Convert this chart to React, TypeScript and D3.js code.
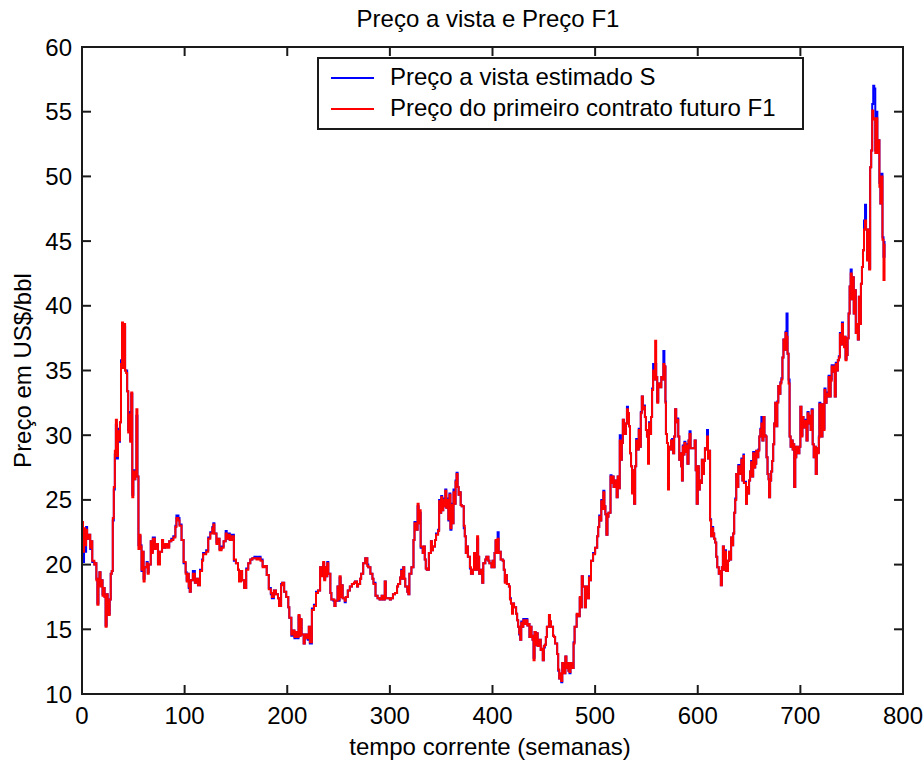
import React from "react";
import * as d3 from "d3";

// semanas (eixo x)
const weeks = [
  0, 1, 2, 3, 4, 5, 7, 8, 9, 10,
  12, 13, 14, 15, 16, 17, 18, 19, 20, 21,
  22, 23, 24, 25, 26, 27, 28, 29, 30, 31,
  32, 33, 34, 35, 36, 37, 38, 39, 40, 41,
  42, 43, 44, 45, 46, 47, 48, 49, 50, 51,
  52, 53, 54, 55, 56, 57, 58, 59, 60, 61,
  63, 64, 65, 67, 68, 69, 71, 72, 74, 76,
  78, 79, 81, 83, 85, 87, 89, 91, 92, 94,
  95, 97, 99, 101, 102, 103, 104, 105, 106, 108,
  110, 112, 113, 115, 117, 118, 121, 123, 125, 127,
  128, 129, 131, 132, 134, 136, 138, 140, 141, 143,
  144, 146, 148, 150, 152, 153, 155, 156, 158, 160,
  162, 164, 166, 168, 170, 172, 174, 176, 178, 180,
  182, 184, 185, 187, 189, 191, 192, 194, 195, 197,
  199, 201, 202, 204, 205, 207, 208, 210, 211, 212,
  213, 214, 216, 217, 218, 220, 221, 222, 224, 226,
  228, 230, 232, 233, 235, 236, 237, 238, 239, 240,
  242, 243, 245, 246, 247, 249, 250, 251, 252, 253,
  254, 256, 257, 259, 261, 263, 265, 266, 268, 269,
  271, 272, 274, 276, 278, 279, 281, 283, 284, 286,
  288, 290, 292, 294, 295, 296, 298, 300, 301, 303,
  305, 307, 308, 310, 311, 312, 313, 314, 315, 317,
  318, 319, 321, 323, 324, 325, 327, 328, 329, 330,
  332, 333, 334, 335, 336, 338, 340, 341, 342, 344,
  345, 347, 348, 349, 350, 351, 352, 353, 354, 355,
  356, 357, 358, 359, 360, 361, 362, 363, 364, 365,
  366, 367, 368, 369, 370, 372, 373, 374, 375, 376,
  378, 379, 381, 382, 383, 385, 386, 387, 389, 390,
  391, 393, 394, 396, 397, 399, 400, 401, 402, 403,
  404, 405, 406, 407, 408, 410, 411, 412, 413, 414,
  416, 417, 418, 419, 420, 421, 423, 424, 425, 426,
  427, 428, 429, 430, 432, 433, 434, 435, 436, 437,
  438, 439, 440, 441, 442, 443, 444, 446, 447, 448,
  449, 450, 451, 452, 453, 455, 456, 457, 459, 460,
  461, 462, 463, 464, 465, 466, 467, 468, 469, 471,
  472, 473, 474, 475, 476, 477, 479, 480, 482, 483,
  485, 486, 487, 488, 489, 490, 491, 492, 494, 495,
  496, 498, 500, 502, 503, 504, 505, 506, 507, 508,
  509, 510, 511, 512, 513, 515, 516, 517, 518, 520,
  521, 522, 523, 524, 525, 526, 527, 528, 530, 531,
  532, 533, 534, 535, 536, 537, 538, 539, 540, 541,
  542.5, 543.5, 544.5, 545.5, 546.5, 547.5, 548.5, 549.5, 550.5, 551.5,
  552.5, 553.5, 554.5, 555.5, 556.5, 557.5, 558.5, 559.5, 560.5, 561.5,
  563.5, 564.5, 565.5, 566.5, 567.5, 568.5, 569, 570, 571, 572,
  573, 574, 575, 576, 577, 578, 579, 580, 581, 582,
  583, 583.8, 584.6, 585.4, 586.2, 587, 588, 589, 590, 591,
  592, 593, 597, 598, 599, 600, 601, 602, 603, 604,
  605, 606, 607, 608, 609, 610, 611, 612, 613, 614,
  615, 616, 617, 618, 619, 620, 620.5, 621.5, 622.5, 623.5,
  624.5, 625.5, 626.5, 627.5, 628.5, 629.5, 630.5, 631.5, 632.5, 633.5,
  634.5, 635.5, 636.5, 637.5, 638.5, 639.5, 640.5, 641.5, 642.5, 643.5,
  644.5, 645, 646, 647, 648, 649, 650, 651, 652, 653,
  654, 655, 656, 657, 658, 659, 660, 661, 662, 663,
  664, 665, 666, 667, 668, 669, 669.5, 670.5, 671.5, 672.5,
  673.5, 674.5, 675.5, 676.5, 677.5, 678.5, 679.5, 680.5, 681.5, 682.5,
  683.5, 684.5, 685.5, 686.5, 687.5, 688.5, 689.5, 690.5, 691.5, 692.5,
  693.5, 694, 695, 696, 697, 698, 699, 700, 701, 702,
  703, 704, 705, 706, 707, 708, 709, 710, 711, 712,
  713, 714, 715, 716, 717, 718, 718.5, 719.5, 720.5, 721.5,
  722.5, 723.5, 724.5, 725.5, 726.5, 727.5, 728.5, 729.5, 730.5, 731.5,
  732.5, 733.5, 734.5, 735.5, 736.5, 737.5, 738.5, 739.5, 740.5, 741.5,
  742.5, 743, 744, 745, 746, 747, 748, 749, 750, 751,
  752, 753, 754, 755, 756, 757, 758, 759, 760, 761,
  762, 763, 764, 765, 766, 767, 768, 769, 770, 771,
  772, 773, 774, 775, 776, 777, 778, 779, 780, 781,
  782,
];

// Preço do primeiro contrato futuro F1
const precoF1 = [
  23.3, 21.0, 22.8, 21.5, 22.7, 22.0, 22.3, 21.3, 21.8, 20.3,
  20.0, 20.1, 18.8, 16.9, 18.9, 19.4, 18.3, 18.8, 17.6, 18.2,
  17.5, 15.2, 17.7, 17.0, 16.1, 17.3, 19.3, 19.5, 23.6, 26.0,
  28.8, 31.2, 28.4, 30.3, 29.6, 31.0, 35.5, 38.7, 35.2, 38.6,
  35.0, 34.8, 33.4, 30.2, 31.6, 29.5, 33.3, 25.2, 27.2, 26.6,
  27.2, 32.0, 26.8, 21.2, 22.3, 21.4, 19.6, 21.0, 18.7, 19.8,
  20.1, 19.3, 20.0, 21.8, 20.9, 22.0, 21.2, 21.6, 20.0, 21.0,
  21.9, 21.3, 21.6, 21.3, 21.8, 21.9, 22.1, 22.9, 23.6, 23.4,
  23.0, 21.9, 20.2, 19.3, 18.7, 19.3, 18.3, 17.9, 18.8, 19.3,
  18.6, 18.9, 18.4, 19.5, 20.3, 20.8, 21.0, 22.0, 22.4, 22.8,
  23.1, 22.4, 21.6, 22.0, 21.1, 21.3, 21.8, 22.4, 22.0, 22.3,
  21.9, 22.2, 20.4, 20.1, 19.6, 18.7, 19.5, 18.8, 18.2, 19.6,
  20.1, 20.4, 20.5, 20.5, 20.4, 20.5, 20.3, 19.8, 19.9, 19.2,
  18.1, 17.8, 17.5, 18.0, 17.7, 17.4, 16.8, 18.4, 18.6, 17.9,
  17.5, 16.7, 15.9, 14.6, 14.9, 14.4, 14.8, 14.4, 16.1, 14.5,
  15.8, 14.6, 13.9, 14.3, 14.6, 14.3, 15.2, 14.0, 16.5, 16.8,
  17.8, 18.0, 19.8, 19.1, 20.2, 18.8, 19.8, 19.1, 20.1, 19.3,
  17.8, 17.3, 17.3, 16.8, 17.2, 18.3, 17.3, 19.1, 17.5, 18.4,
  17.4, 17.2, 17.5, 18.0, 18.3, 18.5, 18.6, 18.7, 18.3, 18.5,
  18.9, 19.3, 20.1, 20.5, 19.9, 19.8, 19.3, 18.9, 18.5, 17.6,
  17.4, 17.3, 17.6, 17.3, 18.7, 17.4, 17.4, 17.3, 17.4, 17.7,
  17.8, 18.3, 18.5, 19.0, 19.5, 18.9, 19.8, 18.9, 18.3, 17.9,
  17.7, 19.3, 19.8, 21.9, 23.2, 22.7, 24.7, 23.2, 24.2, 21.4,
  20.9, 21.4, 20.4, 19.7, 19.6, 20.9, 21.8, 21.1, 21.4, 21.9,
  22.3, 22.6, 24.9, 24.0, 25.2, 24.2, 25.0, 24.5, 25.7, 24.4,
  25.0, 23.5, 25.4, 22.8, 24.6, 23.2, 25.6, 24.7, 26.4, 27.0,
  26.0, 25.4, 25.6, 24.6, 24.5, 23.0, 22.2, 20.9, 21.4, 20.6,
  19.8, 19.3, 19.6, 20.9, 19.6, 22.2, 20.6, 19.3, 19.6, 18.6,
  20.1, 20.4, 20.6, 20.3, 20.1, 19.8, 20.3, 19.8, 20.9, 21.9,
  20.9, 22.0, 20.9, 21.0, 20.4, 20.3, 19.6, 18.6, 19.2, 18.5,
  18.3, 17.3, 17.0, 16.2, 17.0, 16.7, 16.2, 15.7, 15.2, 14.7,
  14.2, 15.5, 15.2, 15.7, 15.4, 15.7, 15.3, 15.4, 14.4, 15.2,
  14.5, 14.2, 12.6, 14.8, 13.8, 14.7, 13.7, 14.2, 13.4, 13.5,
  12.6, 13.7, 13.8, 14.4, 15.2, 16.1, 15.6, 15.2, 14.5, 14.4,
  13.9, 13.9, 13.1, 11.9, 11.2, 11.6, 11.0, 12.4, 11.6, 12.9,
  12.0, 12.4, 11.8, 11.7, 12.4, 12.0, 13.9, 15.2, 16.2, 16.0,
  17.5, 16.7, 19.1, 18.3, 18.3, 16.7, 18.3, 17.4, 19.0, 18.8,
  20.3, 20.8, 21.3, 22.2, 22.9, 23.7, 23.4, 24.9, 24.3, 25.6,
  24.5, 23.9, 22.3, 23.7, 24.0, 26.8, 26.3, 26.8, 26.0, 26.5,
  25.2, 26.8, 25.9, 29.6, 28.1, 29.4, 31.2, 30.1, 30.9, 32.0,
  31.7, 30.7, 28.6, 27.6, 25.5, 27.3, 24.7, 27.6, 29.6, 28.9,
  30.4, 29.1, 31.7, 33.0, 32.0, 32.2, 31.4, 30.4, 29.9, 27.8,
  30.9, 30.1, 31.4, 33.5, 35.0, 34.3, 37.3, 34.5, 32.5, 34.0,
  33.7, 34.5, 34.3, 35.5, 35.3, 32.5, 30.1, 29.4, 25.8, 29.1,
  28.9, 29.6, 29.6, 28.6, 29.9, 32.0, 31.0, 31.2, 29.9, 28.1,
  28.6, 27.6, 26.5, 29.1, 28.5, 29.4, 28.7, 29.2, 27.8, 29.6,
  30.1, 29.0, 29.6, 27.3, 24.7, 27.6, 25.8, 26.5, 26.3, 28.1,
  27.0, 28.0, 29.0, 28.9, 29.9, 28.2, 28.8, 23.4, 22.2, 22.8,
  22.4, 22.0, 21.7, 20.6, 19.8, 19.8, 19.3, 19.5, 18.4, 19.8,
  21.4, 19.6, 21.0, 19.5, 19.5, 20.3, 21.0, 20.4, 22.1, 21.5,
  22.4, 24.0, 25.0, 27.0, 26.0, 27.6, 27.0, 27.2, 28.1, 26.5,
  28.4, 26.3, 26.3, 24.7, 26.0, 25.5, 26.5, 27.2, 27.9, 26.8,
  28.6, 27.5, 27.8, 28.8, 28.3, 28.8, 29.9, 30.4, 30.9, 29.6,
  31.4, 30.0, 29.9, 28.3, 27.0, 26.6, 25.2, 26.5, 27.2, 28.0,
  29.3, 30.9, 32.5, 30.7, 32.5, 33.8, 33.2, 34.0, 34.3, 36.0,
  37.4, 36.6, 37.9, 37.6, 36.3, 34.0, 29.9, 29.1, 29.6, 28.9,
  29.3, 26.0, 28.3, 29.1, 28.6, 28.6, 29.1, 32.2, 29.9, 31.4,
  31.1, 30.6, 31.1, 29.6, 31.7, 30.9, 31.5, 30.4, 31.9, 29.3,
  28.3, 29.1, 27.0, 29.0, 28.6, 29.8, 32.4, 31.7, 29.9, 32.4,
  30.4, 33.5, 32.5, 33.2, 33.0, 34.5, 33.0, 34.2, 35.3, 34.9,
  35.3, 33.0, 35.5, 35.0, 35.8, 36.0, 37.8, 37.0, 38.6, 37.6,
  36.8, 37.6, 35.8, 36.2, 37.5, 39.4, 41.5, 42.5, 40.5, 42.2,
  39.4, 41.2, 37.9, 38.6, 37.4, 40.7, 38.6, 41.7, 43.0, 44.3,
  45.9, 46.6, 45.9, 43.5, 45.9, 42.8, 50.7, 52.0, 55.1, 54.4,
  54.5, 51.8, 54.5, 51.8, 52.8, 49.2, 47.9, 50.0, 45.1, 42.0,
  44.8,
];

// Preço a vista estimado S
const precoS = [
  22.0, 20.2, 22.0, 21.0, 22.9, 22.0, 22.3, 21.2, 21.8, 20.2,
  20.0, 20.1, 18.9, 17.0, 18.9, 19.4, 18.4, 18.8, 17.7, 18.2,
  17.5, 15.3, 17.7, 17.0, 16.2, 17.3, 19.3, 19.5, 23.4, 25.8,
  28.5, 30.8, 28.2, 30.5, 29.5, 31.0, 35.8, 38.5, 35.2, 38.4,
  35.0, 35.0, 33.4, 30.4, 31.8, 29.6, 33.2, 25.4, 27.3, 26.6,
  27.2, 31.5, 26.8, 21.5, 22.2, 21.5, 19.5, 21.0, 18.9, 19.8,
  20.2, 19.4, 20.0, 21.8, 21.0, 22.1, 21.3, 21.6, 20.1, 21.0,
  21.9, 21.3, 21.5, 21.4, 21.8, 22.0, 22.2, 23.0, 23.8, 23.6,
  23.1, 21.9, 20.1, 19.4, 18.8, 19.3, 18.2, 17.9, 18.8, 19.5,
  18.6, 18.9, 18.4, 19.6, 20.4, 20.9, 21.1, 22.1, 22.5, 22.9,
  23.2, 22.4, 21.7, 22.0, 21.2, 21.4, 21.8, 22.6, 22.0, 22.4,
  21.9, 22.3, 20.3, 20.1, 19.6, 18.8, 19.5, 18.8, 18.2, 19.7,
  20.1, 20.4, 20.5, 20.6, 20.5, 20.6, 20.4, 19.9, 19.9, 19.2,
  18.2, 17.7, 17.4, 18.0, 17.7, 17.4, 16.8, 18.5, 18.6, 17.9,
  17.5, 16.7, 15.9, 14.5, 14.9, 14.3, 14.8, 14.3, 16.0, 14.5,
  15.7, 14.6, 13.9, 14.3, 14.6, 14.2, 15.2, 13.9, 16.6, 16.9,
  17.9, 18.0, 19.8, 19.3, 20.1, 18.9, 19.8, 19.1, 20.2, 19.3,
  17.8, 17.3, 17.2, 16.8, 17.2, 18.3, 17.2, 19.0, 17.5, 18.4,
  17.4, 17.1, 17.5, 18.0, 18.3, 18.5, 18.6, 18.7, 18.3, 18.5,
  18.9, 19.3, 20.1, 20.5, 20.0, 19.8, 19.3, 18.9, 18.6, 17.6,
  17.4, 17.3, 17.6, 17.3, 18.7, 17.4, 17.4, 17.3, 17.4, 17.7,
  17.8, 18.3, 18.5, 19.0, 19.6, 18.9, 19.8, 18.9, 18.3, 17.9,
  17.7, 19.3, 19.8, 21.9, 23.3, 22.7, 24.5, 23.2, 24.0, 21.3,
  20.9, 21.4, 20.4, 19.7, 19.6, 20.9, 21.8, 21.1, 21.4, 21.9,
  22.4, 22.7, 25.0, 24.0, 25.3, 24.2, 25.1, 24.5, 25.8, 24.4,
  25.1, 23.4, 25.5, 22.7, 24.7, 23.2, 25.8, 24.7, 26.5, 27.1,
  26.0, 25.4, 25.6, 24.6, 24.5, 22.8, 22.2, 20.9, 21.4, 20.6,
  19.7, 19.3, 19.6, 20.9, 19.6, 22.0, 20.6, 19.3, 19.6, 18.6,
  20.1, 20.4, 20.6, 20.3, 20.1, 19.8, 20.3, 19.8, 20.9, 21.8,
  20.9, 22.5, 20.9, 21.0, 20.4, 20.3, 19.6, 18.7, 19.2, 18.5,
  18.3, 17.4, 17.0, 16.3, 17.0, 16.7, 16.2, 15.7, 15.2, 14.6,
  14.2, 15.6, 15.2, 15.8, 15.4, 15.8, 15.3, 15.4, 14.4, 15.2,
  14.5, 14.2, 12.8, 14.8, 13.8, 14.7, 13.7, 14.2, 13.4, 13.4,
  12.6, 13.6, 13.8, 14.4, 15.2, 16.0, 15.6, 15.2, 14.5, 14.4,
  13.9, 13.9, 13.1, 11.8, 11.2, 11.5, 10.9, 12.4, 11.6, 12.9,
  12.0, 12.3, 11.8, 11.6, 12.4, 12.0, 14.0, 15.2, 16.1, 16.0,
  17.4, 16.7, 19.1, 18.3, 18.3, 16.7, 18.3, 17.4, 19.1, 18.8,
  20.3, 20.9, 21.3, 22.2, 22.9, 23.8, 23.4, 25.0, 24.3, 25.7,
  24.5, 23.9, 22.3, 23.7, 24.0, 26.9, 26.3, 26.8, 26.0, 26.5,
  25.2, 26.8, 25.9, 30.0, 28.1, 29.4, 31.2, 30.1, 30.9, 32.2,
  31.7, 30.7, 28.6, 27.6, 25.6, 27.3, 24.7, 27.6, 29.7, 28.9,
  30.5, 29.1, 31.8, 33.0, 32.0, 32.3, 31.4, 30.4, 29.9, 27.9,
  31.0, 30.1, 31.4, 33.6, 35.5, 34.3, 35.5, 34.5, 32.6, 34.0,
  33.7, 34.5, 34.3, 36.5, 35.3, 32.6, 30.1, 29.4, 25.9, 29.1,
  28.9, 29.6, 29.7, 28.6, 29.9, 32.0, 31.0, 31.3, 29.9, 28.1,
  28.6, 27.6, 26.5, 29.2, 28.5, 29.5, 28.7, 29.3, 27.8, 29.6,
  30.3, 29.0, 29.6, 27.3, 24.7, 27.6, 25.8, 26.5, 26.3, 28.1,
  27.0, 28.0, 29.0, 28.9, 30.4, 28.2, 28.8, 23.5, 22.2, 22.9,
  22.4, 22.0, 21.7, 20.6, 19.8, 19.8, 19.3, 19.5, 18.4, 19.8,
  21.4, 19.6, 21.1, 19.5, 19.5, 20.3, 21.0, 20.4, 22.1, 21.5,
  22.4, 24.0, 25.1, 27.0, 26.0, 27.7, 27.0, 27.3, 28.2, 26.5,
  28.5, 26.3, 26.4, 24.7, 26.0, 25.5, 26.5, 27.2, 28.0, 26.8,
  28.7, 27.5, 27.8, 28.8, 28.3, 28.9, 29.9, 30.5, 31.4, 29.6,
  31.4, 30.0, 29.9, 28.3, 27.0, 26.6, 25.2, 26.5, 27.2, 28.0,
  29.3, 30.9, 32.5, 30.7, 32.6, 33.8, 33.2, 34.1, 34.4, 36.0,
  37.4, 36.6, 38.0, 39.4, 36.3, 34.3, 29.9, 29.1, 29.6, 28.9,
  29.3, 26.0, 28.3, 29.1, 28.6, 28.6, 29.1, 32.2, 30.0, 31.4,
  31.1, 30.6, 31.2, 29.6, 31.8, 30.9, 31.5, 30.4, 32.0, 29.3,
  28.3, 29.1, 27.0, 29.0, 28.7, 29.9, 32.5, 31.7, 29.9, 32.4,
  30.5, 33.6, 32.5, 33.3, 33.0, 34.6, 33.0, 34.3, 35.4, 34.9,
  35.4, 33.0, 35.6, 35.0, 35.8, 36.1, 37.9, 37.0, 38.7, 37.6,
  37.0, 37.6, 35.9, 36.2, 37.5, 39.4, 41.5, 42.8, 40.5, 42.2,
  39.4, 41.2, 37.9, 38.6, 37.4, 40.7, 38.6, 41.7, 43.0, 44.3,
  46.6, 47.8, 45.9, 43.6, 45.9, 42.9, 50.7, 52.0, 55.6, 57.0,
  56.8, 52.0, 55.0, 52.8, 52.8, 49.5, 47.9, 50.2, 45.3, 43.8,
  45.0,
];

const xTicks = [0, 100, 200, 300, 400, 500, 600, 700, 800];
const yTicks = [10, 15, 20, 25, 30, 35, 40, 45, 50, 55, 60];
const legendLabels = ["Preço a vista estimado S", "Preço do primeiro contrato futuro F1"];
const seriesColors = ["#0000ff", "#ff0000"];

const W = 923;
const H = 764;
const left = 82;
const right = 903;
const top = 47;
const bottom = 694;
const tickLen = 9;
const font = "Arial, 'Liberation Sans', sans-serif";

export default function App() {
  const x = d3.scaleLinear().domain([0, 800]).range([left, right]);
  const y = d3.scaleLinear().domain([10, 60]).range([bottom, top]);

  // weekly values drawn as steps, like the pixel-wide segments of the original
  const line = d3
    .line<number>()
    .x((_, i) => x(weeks[i]))
    .y((d) => y(d))
    .curve(d3.curveStepAfter);

  const axisColor = "#1a1a1a";

  return (
    <svg
      width={W}
      height={H}
      style={{ position: "absolute", left: 0, top: 0, background: "#fff" }}
      fontFamily={font}
    >
      <rect x={0} y={0} width={W} height={H} fill="#fff" />

      {/* series: S first, F1 drawn on top */}
      <path d={line(precoS) || ""} fill="none" stroke={seriesColors[0]} strokeWidth={2} />
      <path d={line(precoF1) || ""} fill="none" stroke={seriesColors[1]} strokeWidth={2} />

      {/* axes box */}
      <rect
        x={left}
        y={top}
        width={right - left}
        height={bottom - top}
        fill="none"
        stroke={axisColor}
        strokeWidth={2}
      />

      {xTicks.map((t) => (
        <g key={"x" + t}>
          <line x1={x(t)} x2={x(t)} y1={bottom} y2={bottom - tickLen} stroke={axisColor} strokeWidth={2} />
          <line x1={x(t)} x2={x(t)} y1={top} y2={top + tickLen} stroke={axisColor} strokeWidth={2} />
          <text x={x(t)} y={724} textAnchor="middle" fontSize={24} fill="#000">
            {t}
          </text>
        </g>
      ))}

      {yTicks.map((t) => (
        <g key={"y" + t}>
          <line x1={left} x2={left + tickLen} y1={y(t)} y2={y(t)} stroke={axisColor} strokeWidth={2} />
          <line x1={right} x2={right - tickLen} y1={y(t)} y2={y(t)} stroke={axisColor} strokeWidth={2} />
          <text x={72} y={y(t) + 8.5} textAnchor="end" fontSize={24} fill="#000">
            {t}
          </text>
        </g>
      ))}

      {/* title and axis labels */}
      <text x={488} y={27} textAnchor="middle" fontSize={24} fill="#000">
        Preço a vista e Preço F1
      </text>
      <text x={490} y={755} textAnchor="middle" fontSize={24} fill="#000">
        tempo corrente (semanas)
      </text>
      <text
        transform={`translate(31, ${(top + bottom) / 2}) rotate(-90)`}
        textAnchor="middle"
        fontSize={24}
        fill="#000"
      >
        Preço em US$/bbl
      </text>

      {/* legend */}
      <rect x={318} y={58} width={485} height={71} fill="#fff" stroke={axisColor} strokeWidth={2} />
      {legendLabels.map((label, i) => (
        <g key={label}>
          <line
            x1={331}
            x2={374}
            y1={78 + i * 31}
            y2={78 + i * 31}
            stroke={seriesColors[i]}
            strokeWidth={1.8}
          />
          <text x={390} y={85 + i * 31} fontSize={24} fill="#000">
            {label}
          </text>
        </g>
      ))}
    </svg>
  );
}
